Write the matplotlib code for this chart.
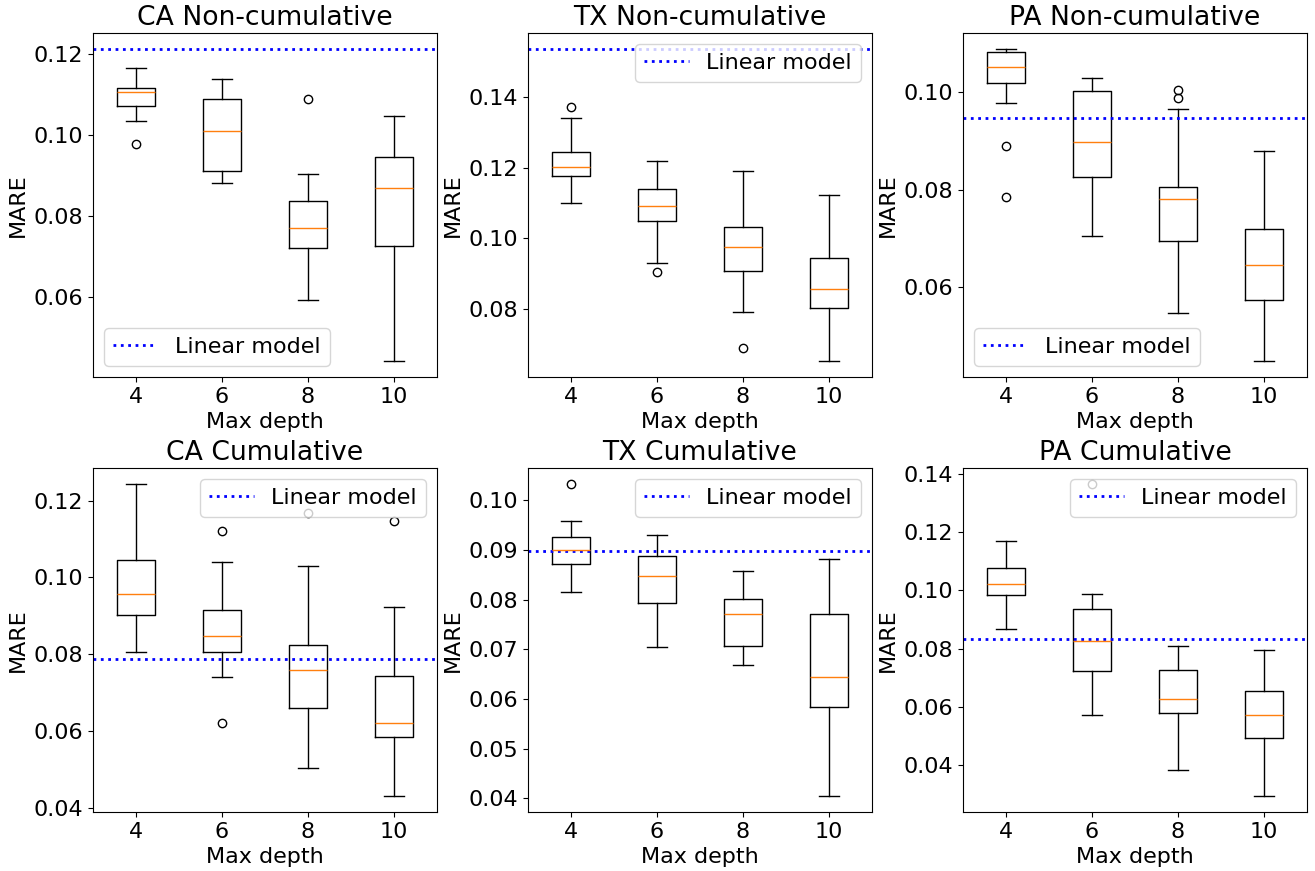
import numpy as np
import matplotlib
matplotlib.use('Agg')
import matplotlib.pyplot as plt

plt.rcParams['font.size'] = 16

depths = [4, 6, 8, 10]
titles = ['CA Non-cumulative', 'TX Non-cumulative', 'PA Non-cumulative',
          'CA Cumulative', 'TX Cumulative', 'PA Cumulative']

# box stats per panel, one row per panel, one value per max depth
medians = [
    [0.1107, 0.1010, 0.0770, 0.0868],
    [0.1201, 0.1091, 0.0976, 0.0856],
    [0.1051, 0.0897, 0.0781, 0.0645],
    [0.0957, 0.0847, 0.0759, 0.0622],
    [0.0899, 0.0848, 0.0770, 0.0644],
    [0.1021, 0.0825, 0.0627, 0.0572],
]
q1 = [
    [0.1072, 0.0910, 0.0720, 0.0726],
    [0.1176, 0.1050, 0.0909, 0.0805],
    [0.1018, 0.0826, 0.0696, 0.0575],
    [0.0901, 0.0807, 0.0661, 0.0585],
    [0.0871, 0.0792, 0.0707, 0.0584],
    [0.0984, 0.0723, 0.0578, 0.0495],
]
q3 = [
    [0.1117, 0.1090, 0.0836, 0.0945],
    [0.1243, 0.1139, 0.1033, 0.0946],
    [0.1081, 0.1001, 0.0805, 0.0720],
    [0.1044, 0.0914, 0.0823, 0.0743],
    [0.0925, 0.0887, 0.0801, 0.0770],
    [0.1078, 0.0935, 0.0728, 0.0653],
]
whisker_lo = [
    [0.1034, 0.0881, 0.0593, 0.0440],
    [0.1100, 0.0930, 0.0793, 0.0653],
    [0.0976, 0.0705, 0.0548, 0.0449],
    [0.0806, 0.0741, 0.0504, 0.0430],
    [0.0816, 0.0705, 0.0669, 0.0404],
    [0.0869, 0.0572, 0.0385, 0.0293],
]
whisker_hi = [
    [0.1166, 0.1140, 0.0903, 0.1047],
    [0.1341, 0.1218, 0.1191, 0.1123],
    [0.1088, 0.1029, 0.0964, 0.0878],
    [0.1244, 0.1041, 0.1030, 0.0922],
    [0.0958, 0.0930, 0.0857, 0.0881],
    [0.1169, 0.0989, 0.0808, 0.0795],
]
fliers = [
    [[0.0978], [], [0.1090], []],
    [[0.1371], [0.0906], [0.0690], []],
    [[0.0890, 0.0784], [], [0.1003, 0.0988], []],
    [[], [0.1121, 0.0621], [0.1168], [0.1148]],
    [[0.1033], [], [], []],
    [[], [0.1366], [], []],
]
linear_mare = [0.1214, 0.1536, 0.0947, 0.0788, 0.0898, 0.0832]
legend_loc = ['lower left', 'upper right', 'lower left',
              'upper right', 'upper right', 'upper right']

fig, axes = plt.subplots(2, 3, figsize=(13.15, 8.71), dpi=100)
fig.subplots_adjust(left=0.0707, right=0.9939, bottom=0.0677, top=0.9621,
                    wspace=0.2645, hspace=0.2645)

for i, ax in enumerate(axes.flat):
    stats = []
    for j in range(len(depths)):
        stats.append({'med': medians[i][j], 'q1': q1[i][j], 'q3': q3[i][j],
                      'whislo': whisker_lo[i][j], 'whishi': whisker_hi[i][j],
                      'fliers': fliers[i][j]})
    ax.bxp(stats, positions=np.arange(1, 5), widths=0.45)
    ax.axhline(linear_mare[i], color='blue', linestyle=':', linewidth=2,
               label='Linear model')
    ax.set_xticks(np.arange(1, 5))
    ax.set_xticklabels(depths)
    ax.set_xlim(0.5, 4.5)
    ax.set_title(titles[i])
    ax.set_xlabel('Max depth')
    ax.set_ylabel('MARE')
    ax.legend(loc=legend_loc[i])

plt.savefig('out.png')
